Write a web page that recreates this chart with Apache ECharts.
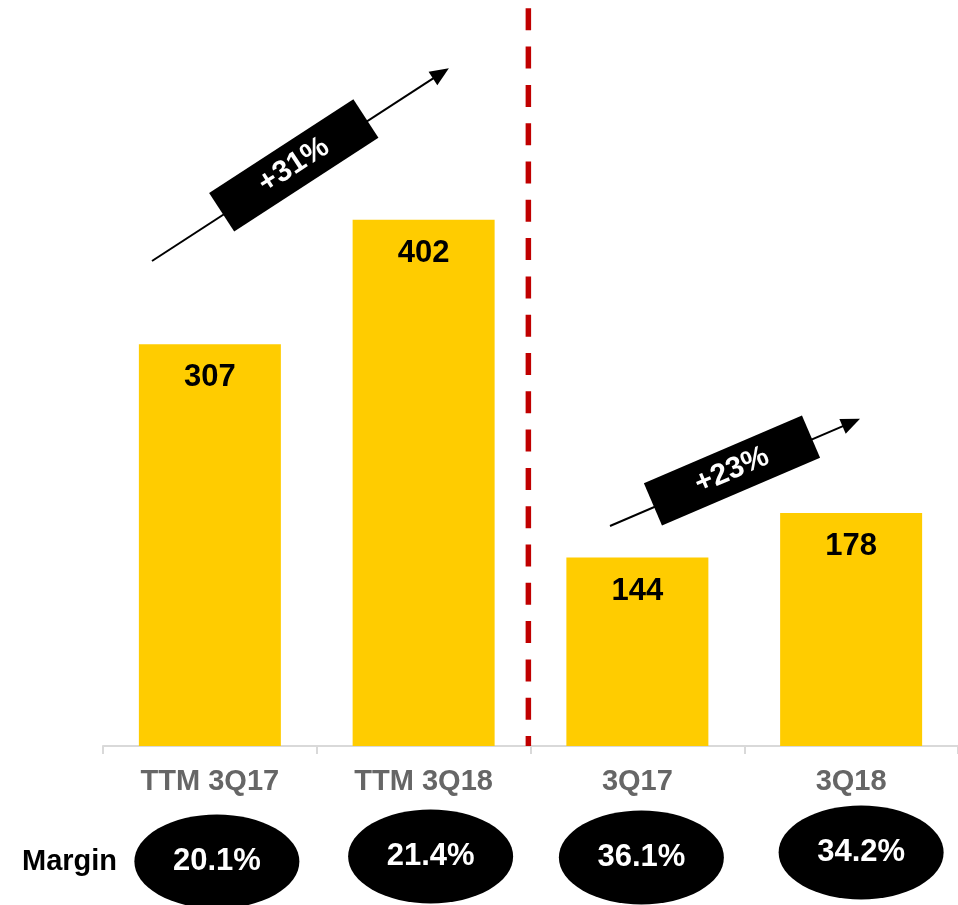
<!DOCTYPE html>
<html>
<head>
<meta charset="utf-8">
<script src="https://cdn.jsdelivr.net/npm/echarts@6/dist/echarts.min.js"></script>
<style>
  html, body { margin: 0; padding: 0; background: #fff; }
  #chart { width: 958px; height: 905px; }
</style>
</head>
<body>
<div id="chart"></div>
<script>
// Operating profit by period, with margin per period
const categories = ['TTM 3Q17', 'TTM 3Q18', '3Q17', '3Q18'];
const profit = [307, 402, 144, 178];
const margins = [20.1, 21.4, 36.1, 34.2];
const growthLabels = ['+31%', '+23%'];

const FONT = '"Liberation Sans", Arial, sans-serif';

// small nudges of the margin ellipses around their category centres
const ellipseOffsets = [[7, 9], [7, 4], [4, 5], [10, 0]];

// Growth arrow: a line with a head, and a black tag carrying the label
function growthArrow(x0, y0, len, angleDeg, tagAt, text) {
  return {
    type: 'group',
    x: x0,
    y: y0,
    rotation: angleDeg * Math.PI / 180,
    children: [
      { type: 'line', shape: { x1: 0, y1: 0, x2: len - 16, y2: 0 },
        style: { stroke: '#000', lineWidth: 2 } },
      { type: 'polygon', shape: { points: [[len, 0], [len - 19, -8], [len - 19, 8]] },
        style: { fill: '#000' } },
      { type: 'rect', shape: { x: tagAt - 86, y: -26, width: 172, height: 46 },
        style: { fill: '#000' } },
      { type: 'text', x: tagAt, y: -3,
        style: { text: text, fill: '#fff', font: 'bold 30px ' + FONT,
                 align: 'center', verticalAlign: 'middle' } }
    ]
  };
}

const chart = echarts.init(document.getElementById('chart'), null, { renderer: 'canvas' });

chart.setOption({
  animation: false,
  backgroundColor: '#ffffff',
  grid: [
    { left: 103, right: 0, top: 0, height: 746 },
    { left: 103, right: 0, top: 800, height: 105 }
  ],
  xAxis: [
    {
      type: 'category', gridIndex: 0, data: categories,
      axisLine: { show: true, lineStyle: { color: '#d9d9d9', width: 2 } },
      axisTick: { show: true, length: 8, lineStyle: { color: '#d9d9d9', width: 2 } },
      axisLabel: { color: '#666666', fontFamily: FONT, fontWeight: 'bold', fontSize: 29, margin: 21 }
    },
    { type: 'value', gridIndex: 0, min: 0, max: 4, show: false },
    { type: 'category', gridIndex: 1, data: categories, show: false }
  ],
  yAxis: [
    { type: 'value', gridIndex: 0, min: 0, max: 570, show: false, splitLine: { show: false } },
    { type: 'value', gridIndex: 1, min: 0, max: 1, show: false, splitLine: { show: false } }
  ],
  series: [
    {
      name: 'Profit', type: 'bar', xAxisIndex: 0, yAxisIndex: 0,
      data: profit, barWidth: 142,
      itemStyle: { color: '#FFCC00' },
      label: {
        show: true, position: 'insideTop', distance: 18,
        color: '#000', fontFamily: FONT, fontWeight: 'bold', fontSize: 31
      }
    },
    {
      name: 'Divider', type: 'line', xAxisIndex: 1, yAxisIndex: 0,
      data: [[1.99, 570], [1.99, 0]],
      symbol: 'none', silent: true,
      lineStyle: { color: '#C00000', width: 5.5, type: [22, 16.3], dashOffset: 30, cap: 'butt' }
    },
    {
      name: 'Margin', type: 'scatter', xAxisIndex: 2, yAxisIndex: 1,
      data: margins.map((m, i) => ({ value: [i, 0.5], margin: m, symbolOffset: ellipseOffsets[i] })),
      symbol: 'circle', symbolSize: [165, 94],
      itemStyle: { color: '#000', opacity: 1 },
      label: {
        show: true, position: 'inside',
        formatter: p => margins[p.dataIndex].toFixed(1) + '%',
        color: '#fff', fontFamily: FONT, fontWeight: 'bold', fontSize: 31
      }
    }
  ],
  graphic: [
    growthArrow(152, 261, 354, 33, 171, growthLabels[0]),
    growthArrow(610, 526, 272, 23.2, 134, growthLabels[1]),
    {
      type: 'text', left: 22, top: 847,
      style: { text: 'Margin', fill: '#000', font: 'bold 29px ' + FONT }
    }
  ]
});
</script>
</body>
</html>
